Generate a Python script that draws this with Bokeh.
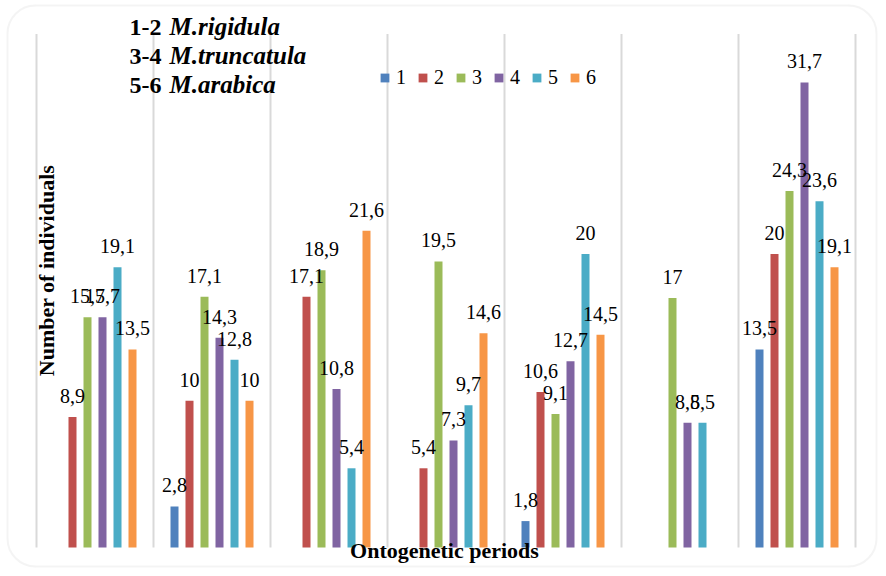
import math
from bokeh.plotting import figure
from bokeh.models import (ColumnDataSource, Label, BoxAnnotation, Legend,
                          LegendItem, Range1d)
from bokeh.core.properties import value
from bokeh.embed import file_html
from bokeh.resources import INLINE

# ---------------- data ----------------
periods = [1, 2, 3, 4, 5, 6, 7]
series_names = ["1", "2", "3", "4", "5", "6"]
s1 = [0, 2.8, 0, 0, 1.8, 0, 13.5]
s2 = [8.9, 10, 17.1, 5.4, 10.6, 0, 20]
s3 = [15.7, 17.1, 18.9, 19.5, 9.1, 17, 24.3]
s4 = [15.7, 14.3, 10.8, 7.3, 12.7, 8.5, 31.7]
s5 = [19.1, 12.8, 5.4, 9.7, 20, 8.5, 23.6]
s6 = [13.5, 10, 21.6, 14.6, 14.5, 0, 19.1]
series = [s1, s2, s3, s4, s5, s6]
species_nums = ["1-2 ", "3-4 ", "5-6 "]
species_names = ["M.rigidula", "M.truncatula", "M.arabica"]
y_title = "Number of individuals"
x_title = "Ontogenetic periods"
axis_max = 35

# ---------------- style ----------------
colors = ["#4F81BD", "#C0504D", "#9BBB59", "#8064A2", "#4BACC6", "#F79646"]
grid_color = "#D9D9D9"
FONT = "Liberation Serif"

W, H = 878, 568
group_px = 117.0
left_px = 36.0       # first gridline, from left
base_px = H - 547.0  # zero line, from bottom
unit_px = 14.67
bar_px = 8.0
step_px = 15.0

p = figure(width=W, height=H, output_backend="svg", toolbar_location=None,
           x_axis_type=None, y_axis_type=None, min_border=0,
           x_range=Range1d(-left_px / group_px, (W - left_px) / group_px),
           y_range=Range1d(-base_px / unit_px, (H - base_px) / unit_px))
p.outline_line_color = None
p.xgrid.visible = False
p.ygrid.visible = False
p.background_fill_color = "white"
p.border_fill_color = "white"

# rounded frame
p.add_layout(BoxAnnotation(left=7, right=W - 2, bottom=2, top=H - 5,
                           left_units="screen", right_units="screen",
                           bottom_units="screen", top_units="screen",
                           fill_alpha=0, line_color=grid_color, line_width=2,
                           border_radius=28))

# vertical category gridlines
n = len(periods)
gx = list(range(n + 1))
p.segment(x0=gx, y0=[0] * len(gx), x1=gx, y1=[axis_max] * len(gx),
          line_color=grid_color, line_width=2)

# bars
items = []
lab_x, lab_y, lab_t = [], [], []
for j, (name, vals) in enumerate(zip(series_names, series)):
    off = (j - (len(series) - 1) / 2) * step_px / group_px
    xs = [i + 0.5 + off for i in range(n)]
    src = ColumnDataSource(dict(x=xs, top=vals))
    r = p.vbar(x="x", top="top", bottom=0, width=bar_px / group_px, source=src,
               fill_color=colors[j], line_color=None)
    items.append(LegendItem(label=name, renderers=[r]))
    for x, v in zip(xs, vals):
        if v > 0:
            lab_x.append(x)
            lab_y.append(v)
            lab_t.append(("%g" % v).replace(".", ","))

p.text(x=lab_x, y=lab_y, text=lab_t, text_font=value(FONT),
       text_font_size=value("20px"), text_align="center",
       text_baseline="alphabetic", y_offset=-21, text_color="black")

legend = Legend(items=items, orientation="horizontal", location=(379, 479),
                glyph_width=11, glyph_height=11, label_standoff=6, spacing=11,
                label_width=10, padding=0, margin=0, border_line_color=None,
                background_fill_alpha=0, label_text_font=FONT,
                label_text_font_size="20px", label_text_color="black")
p.add_layout(legend)

# species annotation
for k, (num, nm) in enumerate(zip(species_nums, species_names)):
    yb = H - (26 + 29 * k)
    p.add_layout(Label(x=129, y=yb, x_units="screen", y_units="screen",
                       text=num, text_font=FONT, text_font_size="24px",
                       text_font_style="bold", text_baseline="alphabetic",
                       text_color="black"))
    p.add_layout(Label(x=169, y=yb, x_units="screen", y_units="screen",
                       text=nm, text_font=FONT, text_font_size="25px",
                       text_font_style="bold italic", text_baseline="alphabetic",
                       text_color="black"))

# axis titles
p.add_layout(Label(x=46, y=H - 270, x_units="screen", y_units="screen",
                   text=y_title, angle=math.pi / 2, text_align="center",
                   text_baseline="alphabetic", text_font=FONT,
                   text_font_size="22px", text_font_style="bold",
                   text_color="black"))
p.add_layout(Label(x=444, y=H - 550, x_units="screen", y_units="screen",
                   text=x_title, text_align="center", text_baseline="alphabetic",
                   text_font=FONT, text_font_size="22px",
                   text_font_style="bold", text_color="black"))

open("out.html", "w").write(file_html(p, INLINE))
